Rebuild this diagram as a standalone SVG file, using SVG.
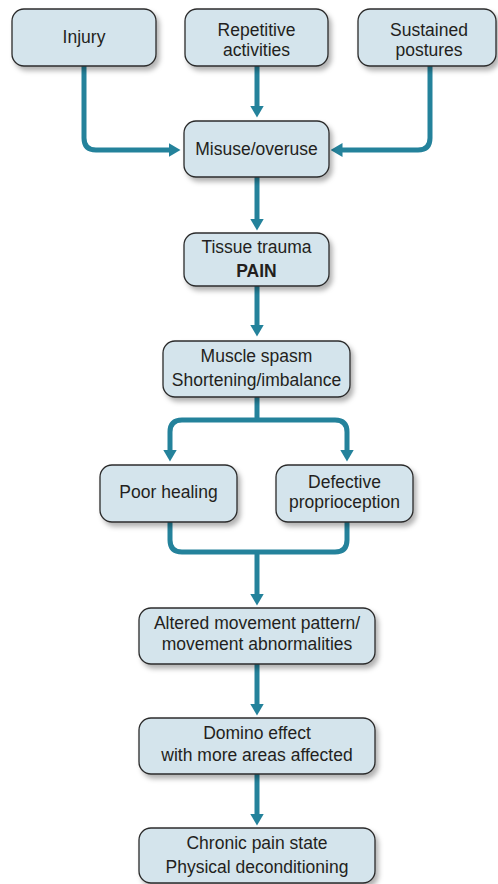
<svg xmlns="http://www.w3.org/2000/svg" width="498" height="884" viewBox="0 0 498 884">
<style>
.box{fill:#d4e4ec;stroke:#2b2b2b;stroke-width:1.3;filter:url(#sh)}
.t{font-family:"Liberation Sans",Arial,sans-serif;font-size:17.5px;fill:#231f20;text-anchor:middle}
.b{font-weight:bold}
.c{fill:none;stroke:#24829b;stroke-width:5;stroke-linejoin:round}
.a{marker-end:url(#ah)}
</style>
<defs>
<filter id="sh" x="-10%" y="-10%" width="130%" height="140%">
<feDropShadow dx="3" dy="4" stdDeviation="2.5" flood-color="#000" flood-opacity="0.3"/>
</filter>
<marker id="ah" viewBox="0 -7 12 14" refX="0.5" refY="0" markerWidth="12" markerHeight="14" markerUnits="userSpaceOnUse" orient="auto">
<path d="M0,-7 L12,0 L0,7 z" fill="#24829b"/>
</marker>
</defs>
<g id="connectors">
<path class="c a" d="M84,66 V138 Q84,150 96,150 H169"/>
<path class="c a" d="M257,66 V106"/>
<path class="c a" d="M430,66 V138 Q430,150 418,150 H342"/>
<path class="c a" d="M257,177 V219"/>
<path class="c a" d="M257,286 V325"/>
<path class="c" d="M257,397 V420"/>
<path class="c a" d="M257,420 H182 Q170,420 170,432 V450"/>
<path class="c a" d="M257,420 H335 Q347,420 347,432 V450"/>
<path class="c" d="M170,522 V540 Q170,552 182,552 H335 Q347,552 347,540 V522"/>
<path class="c a" d="M257,552 V594"/>
<path class="c a" d="M257,664 V704"/>
<path class="c a" d="M257,774 V814"/>
</g>
<g id="injury"><rect class="box" x="12" y="9" width="144" height="57" rx="12"/><text class="t" x="84" y="43">Injury</text></g>
<g id="repetitive"><rect class="box" x="185" y="9" width="143" height="57" rx="12"/><text class="t" x="256.5" y="36">Repetitive</text><text class="t" x="256.5" y="56">activities</text></g>
<g id="sustained"><rect class="box" x="358" y="9" width="138" height="57" rx="12"/><text class="t" x="429" y="36">Sustained</text><text class="t" x="429" y="56">postures</text></g>
<g id="misuse"><rect class="box" x="184" y="121" width="145" height="56" rx="12"/><text class="t" x="256.5" y="155">Misuse/overuse</text></g>
<g id="tissue"><rect class="box" x="184" y="233" width="145" height="53" rx="12"/><text class="t" x="256.5" y="253">Tissue trauma</text><text class="t b" x="256.5" y="277">PAIN</text></g>
<g id="muscle"><rect class="box" x="163" y="341" width="187" height="56" rx="12"/><text class="t" x="256.5" y="362">Muscle spasm</text><text class="t" x="256.5" y="386">Shortening/imbalance</text></g>
<g id="poor"><rect class="box" x="100" y="465" width="137" height="57" rx="12"/><text class="t" x="168.5" y="498">Poor healing</text></g>
<g id="defective"><rect class="box" x="276" y="465" width="137" height="57" rx="12"/><text class="t" x="344.5" y="488">Defective</text><text class="t" x="344.5" y="508">proprioception</text></g>
<g id="altered"><rect class="box" x="139" y="608" width="236" height="56" rx="12"/><text class="t" x="257" y="629">Altered movement pattern/</text><text class="t" x="257" y="650">movement abnormalities</text></g>
<g id="domino"><rect class="box" x="139" y="718" width="236" height="56" rx="12"/><text class="t" x="257" y="739">Domino effect</text><text class="t" x="257" y="761">with more areas affected</text></g>
<g id="chronic"><rect class="box" x="139" y="828" width="236" height="55" rx="12"/><text class="t" x="257" y="849">Chronic pain state</text><text class="t" x="257" y="873">Physical deconditioning</text></g>
</svg>
